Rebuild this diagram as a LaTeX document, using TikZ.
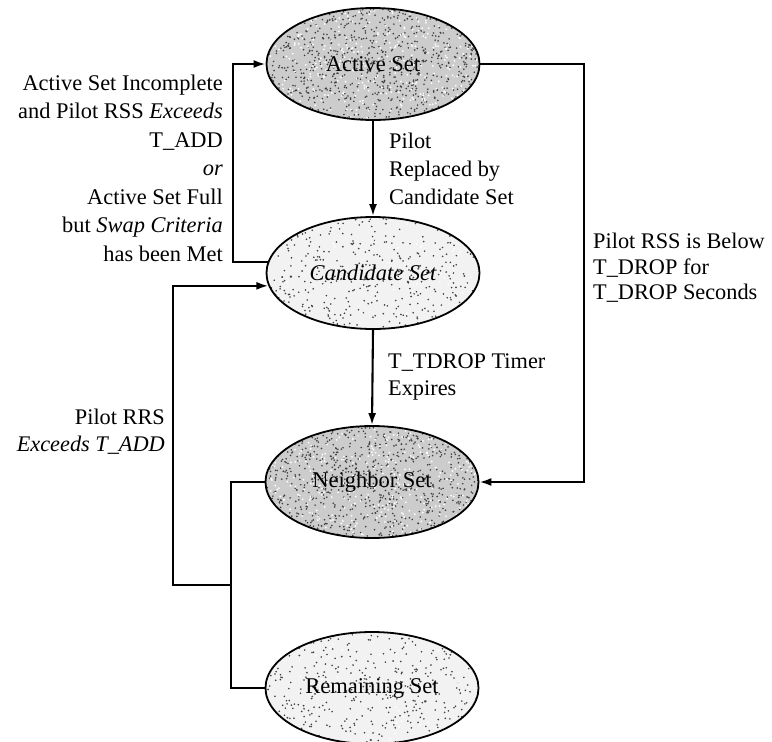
\documentclass[tikz,border=0pt]{standalone}
\usepackage{fontspec}
\setmainfont{Liberation Serif}
\usetikzlibrary{shapes.geometric,arrows.meta,backgrounds}
\begin{document}
\pgfmathsetseed{7}
\begin{tikzpicture}[x=1pt,y=-1pt,
  setnode/.style={ellipse,draw=black,line width=1.8pt,
    minimum width=213pt,minimum height=112pt,inner sep=0pt,
    font=\fontsize{22.5}{26}\selectfont},
  conn/.style={line width=2.1pt},
  arr/.style={conn,-{Latex[length=12pt,width=8pt]}},
  lbl/.style={inner sep=0pt},
]
\useasboundingbox (0,0) rectangle (772,742);

% the four pilot sets
\node[setnode] (act) at (373,64)  {Active Set};
\node[setnode] (cand) at (373,273) {\itshape Candidate Set};
\node[setnode] (nbr) at (372,482) {Neighbor Set};
\node[setnode] (rem) at (372,688) {Remaining Set};

% stippled grey fill behind each set: #1 node, #2 base tone, #3 dark dots, #4 light dots
\newcommand\stipplefill[4]{%
  \begin{scope}[shift={(#1.center)}]
    \fill[#2] (0,0) ellipse (106 and 55.5);
    \clip (0,0) ellipse (106 and 55.5);
    \foreach \k in {1,...,#3}{\fill[black!75] (rand*106,rand*56) circle (0.9);}
    \foreach \k in {1,...,#4}{\fill[white] (rand*106,rand*56) circle (1.0);}
  \end{scope}}
\begin{scope}[on background layer]
  \stipplefill{act}{gray!40}{900}{380}
  \stipplefill{cand}{gray!10}{420}{60}
  \stipplefill{nbr}{gray!40}{900}{380}
  \stipplefill{rem}{gray!10}{420}{60}
\end{scope}

% transitions
\draw[arr] (cand.174) -- ++(-35,0) |- (act.west);
\draw[arr] (act.south) -- (cand.north);
\draw[arr] (act.east) -- ++(104,0) |- (nbr.east);
\draw[arr] (cand.south) -- (nbr.north);
\coordinate (jn) at (231,585);
\draw[conn] (nbr.west) -| (jn) |- (rem.west);
\draw[arr] (jn) -- ++(-58,0) |- (cand.187);

% transition conditions
\node[lbl,align=right,anchor=east,font=\fontsize{22.4}{28.5}\selectfont] (cadd) at (223,168)
  {Active Set Incomplete\\and Pilot RSS \textit{Exceeds}\\T\_ADD\\\textit{or}\\Active Set Full\\but \textit{Swap Criteria}\\has been Met};
\node[lbl,align=left,anchor=west,font=\fontsize{22.3}{28}\selectfont] (crep) at (389,168.5)
  {Pilot\\Replaced by\\Candidate Set};
\node[lbl,align=left,anchor=west,font=\fontsize{22.3}{25.5}\selectfont] (cdrop) at (593,268)
  {Pilot RSS is Below\\T\_DROP for\\T\_DROP Seconds};
\node[lbl,align=left,anchor=west,font=\fontsize{22.3}{27}\selectfont] (ctimer) at (388,377)
  {T\_TDROP Timer\\Expires};
\node[lbl,align=right,anchor=east,font=\fontsize{22.3}{27}\selectfont] (crrs) at (165,432)
  {Pilot RRS\\\textit{Exceeds T\_ADD}};
\end{tikzpicture}
\end{document}
